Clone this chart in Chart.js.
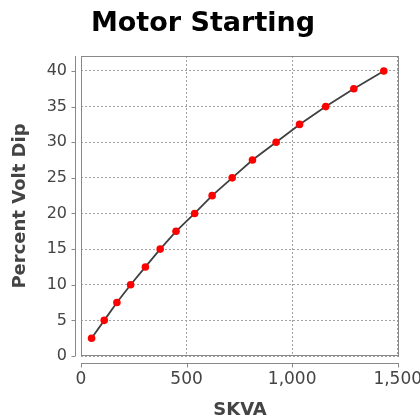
<!DOCTYPE html>
<html>
<head>
<meta charset="utf-8">
<script src="https://cdn.jsdelivr.net/npm/chart.js@4"></script>
<style>
  html, body { margin: 0; padding: 0; background: #fff; }
</style>
</head>
<body>
<canvas id="chart" width="420" height="417"></canvas>
<script>
const skva = [50, 110, 170, 235, 305, 375, 450, 538, 621, 716, 812, 924, 1035, 1159, 1292, 1434];
const voltDip = [2.5, 5, 7.5, 10, 12.5, 15, 17.5, 20, 22.5, 25, 27.5, 30, 32.5, 35, 37.5, 40];
const xTicks = [0, 500, 1000, 1500];
const yTicks = [0, 5, 10, 15, 20, 25, 30, 35, 40];

const chartTitle = 'Motor Starting';
const xTitle = 'SKVA';
const yTitle = 'Percent Volt Dip';

const axisGray = '#888888';
const textGray = '#444444';

// JFreeChart-like frame: outline around plot, axes pushed out a few px
const framePlugin = {
    id: 'frame',
    beforeDatasetsDraw(chart) {
        const ctx = chart.ctx;
        const a = chart.chartArea;
        const xs = chart.scales.x, ys = chart.scales.y;
        ctx.save();
        ctx.strokeStyle = axisGray;
        ctx.lineWidth = 1;
        ctx.strokeRect(Math.round(a.left) + 0.5, Math.round(a.top) + 0.5,
            Math.round(a.right - a.left) - 1, Math.round(a.bottom - a.top) - 1);

        // y axis line + ticks
        const ax = Math.round(a.left) - 6 + 0.5;
        ctx.beginPath();
        ctx.moveTo(ax, a.top);
        ctx.lineTo(ax, a.bottom);
        yTicks.forEach(v => {
            const py = Math.round(ys.getPixelForValue(v)) + 0.5;
            ctx.moveTo(ax - 4, py);
            ctx.lineTo(ax, py);
        });
        // x axis line + ticks
        const ay = Math.round(a.bottom) + 7 + 0.5;
        ctx.moveTo(a.left, ay);
        ctx.lineTo(a.right, ay);
        xTicks.forEach(v => {
            const px = Math.round(xs.getPixelForValue(v)) + 0.5;
            ctx.moveTo(px, ay);
            ctx.lineTo(px, ay + 4);
        });
        ctx.stroke();
        ctx.restore();
    },
    afterDraw(chart) {
        const ctx = chart.ctx;
        const a = chart.chartArea;
        ctx.save();
        ctx.fillStyle = '#000';
        ctx.font = 'bold 27px "DejaVu Sans"';
        ctx.textAlign = 'center';
        ctx.textBaseline = 'alphabetic';
        ctx.fillText(chartTitle, 203, 31);

        ctx.fillStyle = textGray;
        ctx.font = 'bold 18px "DejaVu Sans"';
        ctx.fillText(xTitle, (a.left + a.right) / 2, 415);

        ctx.translate(25, (a.top + a.bottom) / 2);
        ctx.rotate(-Math.PI / 2);
        ctx.fillText(yTitle, 0, 0);
        ctx.restore();
    }
};

new Chart(document.getElementById('chart').getContext('2d'), {
    type: 'line',
    data: {
        datasets: [{
            data: skva.map((x, i) => ({ x: x, y: voltDip[i] })),
            borderColor: '#404040',
            borderWidth: 1.8,
            pointBackgroundColor: '#ff0000',
            pointBorderColor: '#ff0000',
            pointRadius: 3.8,
            pointBorderWidth: 0,
            tension: 0,
            fill: false
        }]
    },
    options: {
        responsive: false,
        animation: false,
        layout: { padding: { top: 56, right: 21, left: 0, bottom: 0 } },
        plugins: {
            legend: { display: false },
            tooltip: { enabled: false },
            title: { display: false }
        },
        scales: {
            x: {
                type: 'linear',
                min: 0,
                max: 1506,
                afterBuildTicks: s => { s.ticks = xTicks.map(v => ({ value: v })); },
                afterFit: s => { s.height = 61; s.paddingLeft = 0; s.paddingRight = 0; },
                grid: { color: '#a0a0a0', drawTicks: false },
                border: { display: false, dash: [2, 2] },
                ticks: {
                    color: textGray,
                    padding: 13,
                    maxRotation: 0,
                    font: { family: '"DejaVu Sans"', size: 17 }
                }
            },
            y: {
                type: 'linear',
                min: 0,
                max: 42.1,
                afterBuildTicks: s => { s.ticks = yTicks.map(v => ({ value: v })); },
                afterFit: s => { s.width = 81; s.paddingTop = 0; s.paddingBottom = 0; },
                grid: { color: '#a0a0a0', drawTicks: false },
                border: { display: false, dash: [2, 2] },
                ticks: {
                    color: textGray,
                    padding: 14,
                    font: { family: '"DejaVu Sans"', size: 16 }
                }
            }
        }
    },
    plugins: [framePlugin]
});
</script>
</body>
</html>
